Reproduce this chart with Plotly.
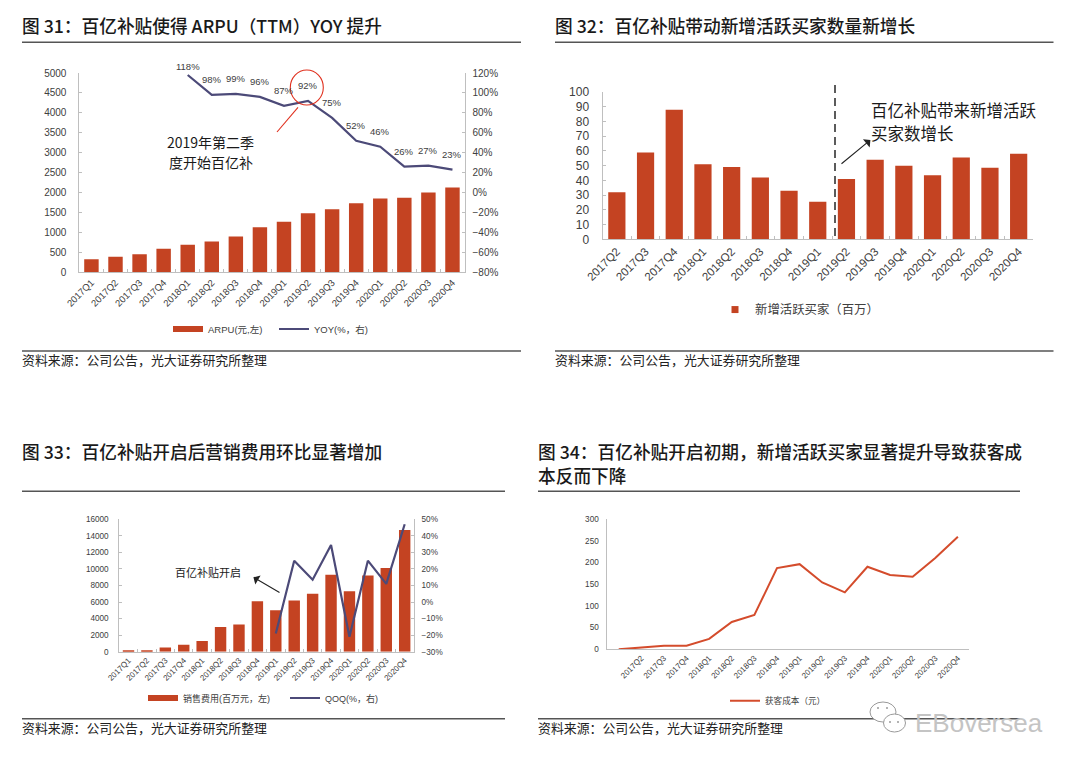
import plotly.graph_objects as go

# ---------- data ----------
q17_20 = ["2017Q1","2017Q2","2017Q3","2017Q4","2018Q1","2018Q2","2018Q3","2018Q4",
          "2019Q1","2019Q2","2019Q3","2019Q4","2020Q1","2020Q2","2020Q3","2020Q4"]
q_from_17q2 = q17_20[1:]
arpu = [330,390,450,590,690,775,900,1130,1270,1480,1580,1730,1850,1870,2000,2130]
yoy_cats = q17_20[4:]
yoy = [118,98,99,96,87,92,75,52,46,26,27,23]
new_buyers = [32,59,88,51,49,42,33,25.5,41,54,50,43.5,55.5,48.5,58]
sales_exp = [150,150,500,850,1300,3000,3300,6100,5000,6200,7000,9300,7300,9200,10100,14700]
qoq_cats = q17_20[8:]
qoq = [-19,25,13.5,34.5,-21,25,11,47]
cac = [0,4,8,8,24,63,79,187,196,154,131,190,171,167,210,259]

titles = ["图 31：百亿补贴使得 ARPU（TTM）YOY 提升",
          "图 32：百亿补贴带动新增活跃买家数量新增长",
          "图 33：百亿补贴开启后营销费用环比显著增加",
          "图 34：百亿补贴开启初期，新增活跃买家显著提升导致获客成",
          "本反而下降"]
source = "资料来源：公司公告，光大证券研究所整理"

BAR = "#C44322"
NAVY = "#4C4A78"
ORANGE = "#D44C2C"
AXIS = "#BFBFBF"
TXT = "#404040"
LAT = "Liberation Sans"
CJK = "Noto Sans CJK SC"
W, H = 1080, 766
px = lambda x: x / W
py = lambda y: 1 - y / H

fig = go.Figure()
anns, shapes = [], []


def text(x, y, s, size, anchor="left", color="#1a1a1a", family=CJK, weight=None):
    f = dict(size=size, color=color, family=family)
    if weight:
        f["weight"] = weight
    if anchor == "left":
        x -= 2
    anns.append(dict(x=px(x), y=py(y - 1), xref="paper", yref="paper", text=s, showarrow=False,
                     xanchor=anchor, yanchor="middle", font=f))


def rule(x0, x1, y, color="#555555", w=1.4):
    shapes.append(dict(type="line", xref="paper", yref="paper", x0=px(x0), x1=px(x1),
                       y0=py(y), y1=py(y), line=dict(color=color, width=w)))


def arrow(x0, y0, x1, y1):
    anns.append(dict(x=px(x1), y=py(y1), xref="paper", yref="paper", ax=x0 - x1, ay=y0 - y1,
                     axref="pixel", ayref="pixel", text="", showarrow=True, arrowhead=1,
                     arrowsize=1.6, arrowwidth=1.1, arrowcolor="#222222"))


def xax(box, cats, size, tickvals=None, ticks="inside"):
    d = dict(domain=[px(box[0]), px(box[1])], type="category", categoryorder="array",
             categoryarray=cats, range=[-0.5, len(cats) - 0.5], tickangle=-45, showgrid=False,
             showline=True, linecolor=AXIS, linewidth=1.2,
             tickfont=dict(size=size, color=TXT, family=LAT), ticks=ticks, ticklen=3,
             tickcolor=AXIS, zeroline=False)
    if ticks:
        d["tickson"] = "boundaries"
    d["tickmode"] = "array"
    d["tickvals"] = tickvals if tickvals is not None else cats
    d["ticktext"] = d["tickvals"]
    return d


def yax(box, rng, dtick, size, suffix="", ticks="inside", standoff=0):
    return dict(domain=[py(box[3]), py(box[2])], range=rng, dtick=dtick, showgrid=False,
                showline=True, linecolor=AXIS, linewidth=1, zeroline=False, ticks=ticks,
                ticklen=3, tickcolor=AXIS, ticksuffix=suffix, tickformat="d",
                ticklabelstandoff=standoff,
                tickfont=dict(size=size, color=TXT, family=LAT))


def bar_key(name, width, legend_id, xa, ya, mode="lines"):
    """Legend-only entry: the bar series' legend key drawn as in the reference."""
    kw = dict(line=dict(color=BAR, width=width)) if mode == "lines" else \
        dict(marker=dict(color=BAR, size=width, symbol="square"))
    fig.add_scatter(x=[None], y=[None], name=name, mode=mode, xaxis=xa, yaxis=ya,
                    legend=legend_id, hoverinfo="skip", **kw)


# ---------- chart 31 ----------
b1 = (79.4, 464.5, 73, 272.3)
fig.add_bar(x=q17_20, y=arpu, name="ARPU(元,左)", marker_color=BAR, width=0.6,
            xaxis="x", yaxis="y", showlegend=False)
bar_key("ARPU(元,左)", 6, "legend", "x", "y")
fig.add_scatter(x=yoy_cats, y=yoy, name="YOY(%，右)", mode="lines", line=dict(color=NAVY, width=2.2),
                xaxis="x", yaxis="y2", legend="legend")
for i, (c, v) in enumerate(zip(yoy_cats, yoy)):
    anns.append(dict(x=c, y=v, xref="x", yref="y2", text=f"{v}%", showarrow=False,
                     yshift=8 if i == 0 else 15, font=dict(size=9.5, color=TXT, family=LAT)))
shapes.append(dict(type="circle", xref="paper", yref="paper", x0=px(290.3), x1=px(323.3),
                   y0=py(105), y1=py(70), line=dict(color="#E0301E", width=1.1)))
shapes.append(dict(type="line", xref="paper", yref="paper", x0=px(298), y0=py(107.3), x1=px(277),
                   y1=py(132), line=dict(color="#E0301E", width=1.1)))
text(210.5, 143, "2019年第二季", 14, "center")
text(210.5, 163, "度开始百亿补", 14, "center")

# ---------- chart 32 ----------
b2 = (602.5, 1033, 92, 239.3)
fig.add_bar(x=q_from_17q2, y=new_buyers, name="新增活跃买家（百万）", marker_color=BAR, width=0.6,
            xaxis="x2", yaxis="y3", showlegend=False)
bar_key("新增活跃买家（百万）", 7, "legend2", "x2", "y3", mode="markers")
shapes.append(dict(type="line", xref="paper", yref="paper", x0=px(835), x1=px(835), y0=py(85),
                   y1=py(239), line=dict(color="#333333", width=1.6, dash="8px,5px")))
arrow(840, 165, 870.4, 140)
text(871, 111, "百亿补贴带来新增活跃", 16.5)
text(871, 134, "买家数增长", 16.5)

# ---------- chart 33 ----------
b3 = (119.3, 413.9, 519.3, 651.7)
fig.add_bar(x=q17_20, y=sales_exp, name="销售费用(百万元，左)", marker_color=BAR, width=0.62,
            xaxis="x3", yaxis="y4", showlegend=False)
bar_key("销售费用(百万元，左)", 6, "legend3", "x3", "y4")
fig.add_scatter(x=qoq_cats, y=qoq, name="QOQ(%，右)", mode="lines", line=dict(color=NAVY, width=2.2),
                xaxis="x3", yaxis="y5", legend="legend3")
arrow(281, 593.3, 253.4, 577.3)
text(208.4, 572.7, "百亿补贴开启", 11, "center")

# ---------- chart 34 ----------
b4 = (607.4, 969.2, 519, 649.3)
fig.add_scatter(x=q17_20, y=cac, name="获客成本（元）", mode="lines", line=dict(color=ORANGE, width=2),
                xaxis="x4", yaxis="y6", legend="legend4")

# ---------- titles, rules, sources ----------
text(22, 26, titles[0], 17.7, weight=500)
text(555, 26, titles[1], 17.7, weight=500)
text(22, 452, titles[2], 17.7, weight=500)
text(538, 452, titles[3], 17.7, weight=500)
text(538, 476, titles[4], 17.7, weight=500)
for x0, x1, y in [(22, 521, 42.3), (555, 1053.5, 42.3), (22, 505, 491.3), (538, 1020, 491.3),
                  (22, 521, 351), (555, 1053.5, 351), (22, 505, 718.7), (538, 1020, 718.7)]:
    rule(x0, x1, y)
for x, y in [(22, 360), (555, 360), (22, 728), (538, 728)]:
    text(x, y, source, 12.9, color="#222222")

# ---------- watermark ----------
for cx, cy, rx, ry in [(883, 712, 13, 10), (894.5, 723, 11, 9)]:
    shapes.append(dict(type="circle", xref="paper", yref="paper", x0=px(cx - rx), x1=px(cx + rx),
                       y0=py(cy + ry), y1=py(cy - ry), fillcolor="white",
                       line=dict(color="#9a9a9a", width=1), layer="above"))
for cx, cy in [(878, 708), (887, 708), (890, 722), (898, 722)]:
    shapes.append(dict(type="circle", xref="paper", yref="paper", x0=px(cx - 1), x1=px(cx + 1),
                       y0=py(cy + 1), y1=py(cy - 1), fillcolor="#9a9a9a",
                       line=dict(width=0), layer="above"))
text(915, 724, "EBoversea", 26, color="#C4C4C4", family=LAT)


def legend(x, y, size, family=LAT + ", " + CJK, iw=None):
    d = dict(x=px(x), y=py(y), xanchor="left", yanchor="middle", orientation="h",
             bgcolor="rgba(0,0,0,0)", font=dict(size=size, color=TXT, family=family),
             itemclick=False, itemdoubleclick=False, tracegroupgap=0)
    if iw:
        d["entrywidth"] = iw
        d["entrywidthmode"] = "pixels"
    return d


fig.update_layout(
    width=W, height=H, margin=dict(l=0, r=0, t=0, b=0), paper_bgcolor="white", plot_bgcolor="white",
    barmode="overlay", showlegend=True, template="none",
    xaxis=xax(b1, q17_20, 9.5),
    yaxis=yax(b1, [0, 5000], 500, 10, standoff=10),
    yaxis2=dict(yax(b1, [-80, 120], 20, 10, "%", standoff=5), overlaying="y", side="right", anchor="x"),
    xaxis2=dict(xax(b2, q_from_17q2, 11.5), anchor="y3"),
    yaxis3=dict(yax(b2, [0, 100], 10, 12, standoff=10), anchor="x2"),
    xaxis3=dict(xax(b3, q17_20, 8), anchor="y4"),
    yaxis4=dict(yax(b3, [0, 16000], 2000, 8.2, standoff=8), anchor="x3"),
    yaxis5=dict(yax(b3, [-30, 50], 10, 8.2, "%", standoff=5), overlaying="y4", side="right", anchor="x3"),
    xaxis4=dict(xax(b4, q17_20, 8, tickvals=q_from_17q2, ticks=""), anchor="y6"),
    yaxis6=dict(yax(b4, [0, 300], 50, 8.2, ticks="", standoff=6), anchor="x4"),
    legend=legend(168, 329, 9.5, iw=61),
    legend2=legend(715, 310, 12.4, family=CJK),
    legend3=legend(143, 698, 9, iw=97),
    legend4=legend(725, 700.7, 8.6, family=CJK),
    annotations=anns, shapes=shapes,
)

fig.write_html("out.html", post_script="document.body.style.margin='0';",
               default_width="1080px", default_height="766px",
               config=dict(displayModeBar=False))
